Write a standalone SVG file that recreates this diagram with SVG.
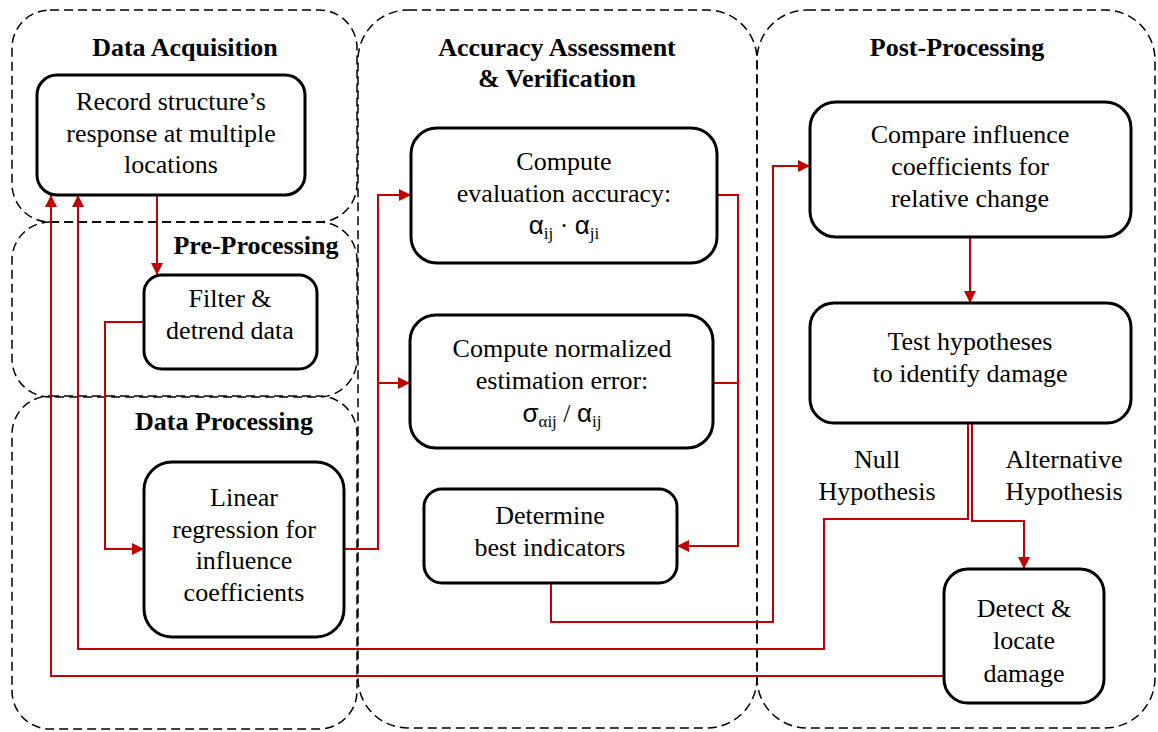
<svg xmlns="http://www.w3.org/2000/svg" width="1158" height="732" viewBox="0 0 1158 732">
<defs>
<style>
.grp{fill:none;stroke:#000;stroke-width:1.5;stroke-dasharray:9 5;}
.node{fill:#fff;stroke:#000;stroke-width:3;}
.t{font-family:"Liberation Serif","Times New Roman",serif;font-size:26px;fill:#000;text-anchor:middle;}
.h{font-family:"Liberation Serif","Times New Roman",serif;font-size:26px;font-weight:bold;fill:#000;text-anchor:middle;}
.g{font-family:"Liberation Sans",Arial,sans-serif;}
.s{font-size:17px;}
.c{fill:none;stroke:#c00000;stroke-width:2;}
</style>
<marker id="ah" viewBox="0 0 12 12" refX="12" refY="6" markerWidth="12" markerHeight="12" markerUnits="userSpaceOnUse" orient="auto">
<path d="M0,0 L12,6 L0,12 z" fill="#c00000"/>
</marker>
</defs>
<rect width="1158" height="732" fill="#fff"/>
<g id="groups">
<g id="grp-acq"><rect class="grp" x="12" y="10" width="345" height="212" rx="38"/><text class="h" x="185" y="56">Data Acquisition</text></g>
<g id="grp-pre"><rect class="grp" x="12" y="222" width="345" height="175" rx="38"/><text class="h" x="256" y="254">Pre-Processing</text></g>
<g id="grp-proc"><rect class="grp" x="12" y="396" width="345" height="333" rx="38"/><text class="h" x="224" y="430">Data Processing</text></g>
<g id="grp-acc"><rect class="grp" x="358" y="10" width="399" height="718" rx="50"/><text class="h" x="557" y="56">Accuracy Assessment</text><text class="h" x="557" y="87">&amp; Verification</text></g>
<g id="grp-post"><rect class="grp" x="757" y="10" width="398" height="718" rx="50"/><text class="h" x="957" y="56">Post-Processing</text></g>
</g>
<g id="connectors">
<path class="c" d="M157,195 V275" marker-end="url(#ah)"/>
<path class="c" d="M144,322 H105 V549 H144" marker-end="url(#ah)"/>
<path class="c" d="M344,549 H378 V195 H411" marker-end="url(#ah)"/>
<path class="c" d="M378,383 H410" marker-end="url(#ah)"/>
<path class="c" d="M717,195 H738 V546 H677" marker-end="url(#ah)"/>
<path class="c" d="M713,383 H738"/>
<path class="c" d="M551,583 V622 H773 V166 H810" marker-end="url(#ah)"/>
<path class="c" d="M970,237 V303" marker-end="url(#ah)"/>
<path class="c" d="M968,423 V519 H824 V649 H78 V195" marker-end="url(#ah)"/>
<path class="c" d="M972,423 V521 H1024 V569" marker-end="url(#ah)"/>
<path class="c" d="M944,676 H51 V195" marker-end="url(#ah)"/>
</g>
<g id="n-record"><rect class="node" x="37" y="75" width="268" height="120" rx="20"/><text class="t" x="171" y="110">Record structure’s</text><text class="t" x="171" y="142">response at multiple</text><text class="t" x="171" y="173">locations</text></g>
<g id="n-filter"><rect class="node" x="144" y="275" width="173" height="94" rx="18"/><text class="t" x="230" y="307">Filter &amp;</text><text class="t" x="230" y="339">detrend data</text></g>
<g id="n-linear"><rect class="node" x="144" y="462" width="200" height="175" rx="28"/><text class="t" x="244" y="506">Linear</text><text class="t" x="244" y="538">regression for</text><text class="t" x="244" y="569">influence</text><text class="t" x="244" y="601">coefficients</text></g>
<g id="n-eval"><rect class="node" x="411" y="128" width="306" height="135" rx="26"/><text class="t" x="564" y="170">Compute</text><text class="t" x="564" y="202">evaluation accuracy:</text><text class="t" x="564" y="234"><tspan class="g">α</tspan><tspan class="s" dy="5">ij</tspan><tspan dy="-5"> · </tspan><tspan class="g">α</tspan><tspan class="s" dy="5">ji</tspan></text></g>
<g id="n-norm"><rect class="node" x="410" y="315" width="303" height="133" rx="26"/><text class="t" x="562" y="357">Compute normalized</text><text class="t" x="562" y="389">estimation error:</text><text class="t" x="562" y="422"><tspan class="g">σ</tspan><tspan class="s" dy="5">αij</tspan><tspan dy="-5"> / </tspan><tspan class="g">α</tspan><tspan class="s" dy="5">ij</tspan></text></g>
<g id="n-best"><rect class="node" x="424" y="489" width="253" height="94" rx="18"/><text class="t" x="550" y="524">Determine</text><text class="t" x="550" y="556">best indicators</text></g>
<g id="n-compare"><rect class="node" x="810" y="102" width="321" height="135" rx="26"/><text class="t" x="970" y="143">Compare influence</text><text class="t" x="970" y="175">coefficients for</text><text class="t" x="970" y="207">relative change</text></g>
<g id="n-test"><rect class="node" x="810" y="303" width="321" height="120" rx="24"/><text class="t" x="970" y="350">Test hypotheses</text><text class="t" x="970" y="382">to identify damage</text></g>
<g id="n-detect"><rect class="node" x="944" y="569" width="160" height="134" rx="24"/><text class="t" x="1024" y="617">Detect &amp;</text><text class="t" x="1024" y="649">locate</text><text class="t" x="1024" y="682">damage</text></g>
<g id="labels"><text class="t" x="877" y="468">Null</text><text class="t" x="877" y="500">Hypothesis</text><text class="t" x="1064" y="468">Alternative</text><text class="t" x="1064" y="500">Hypothesis</text></g>
</svg>
